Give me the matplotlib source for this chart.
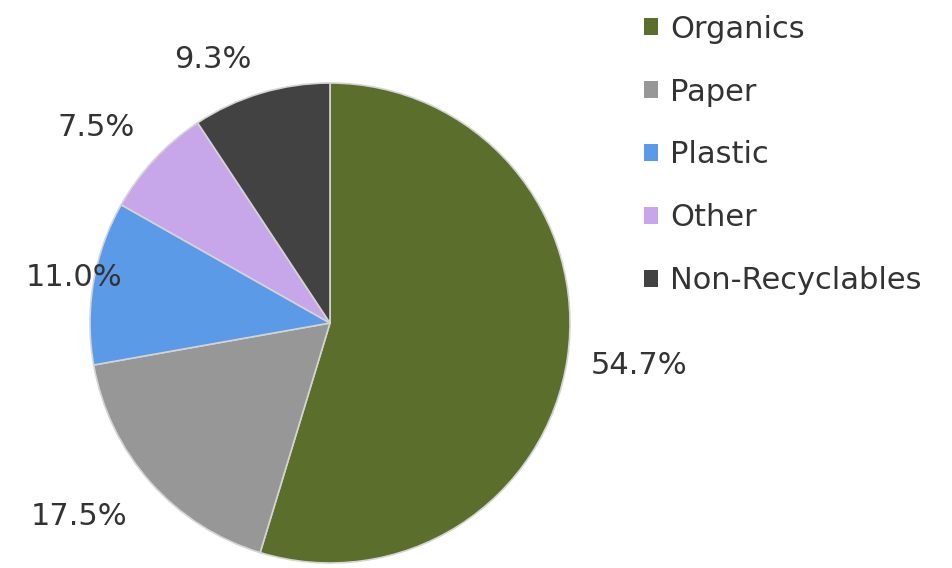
import numpy as np
import matplotlib.pyplot as plt
from matplotlib.patches import Patch

categories = ['Organics', 'Paper', 'Plastic', 'Other', 'Non-Recyclables']
shares = [54.7, 17.5, 11.0, 7.5, 9.3]
colors = ['#5b6e2b', '#979797', '#5a9ae6', '#c8a6ea', '#424242']
# label placement (radius in pie radii, angle nudge in degrees)
label_r = [1.30, 1.32, 1.085, 1.27, 1.20]
label_shift = [0.6, -3.9, -0.3, 3.2, 7.3]

plt.rcParams['font.family'] = ['DejaVu Sans']

fig = plt.figure(figsize=(9.52, 5.68), dpi=100)
W, H = 952, 568
cx, cy, r = 330, 323, 240
ax = fig.add_axes([(cx - r) / W, (H - cy - r) / H, 2 * r / W, 2 * r / H])

wedges, _ = ax.pie(shares, colors=colors, startangle=90, counterclock=False,
                   radius=1, wedgeprops=dict(edgecolor='#d4d4d4', linewidth=1.2))
ax.set_xlim(-1, 1)
ax.set_ylim(-1, 1)
ax.set_aspect('equal')
ax.axis('off')

for w, s, lr, sh in zip(wedges, shares, label_r, label_shift):
    ang = np.deg2rad((w.theta1 + w.theta2) / 2 + sh)
    ax.text(lr * np.cos(ang), lr * np.sin(ang), f'{s:.1f}%', ha='center', va='center',
            fontsize=22, color='#333333', clip_on=False)

handles = [Patch(facecolor=c, edgecolor='none') for c in colors]
fig.legend(handles, categories, loc='upper left', bbox_to_anchor=(638 / W, 0.985),
           frameon=False, fontsize=22, labelcolor='#333333', handlelength=0.46,
           handleheight=0.46, handletextpad=0.4, labelspacing=1.11, borderaxespad=0,
           borderpad=0.2)

fig.savefig('out.png', dpi=100, facecolor='white')
